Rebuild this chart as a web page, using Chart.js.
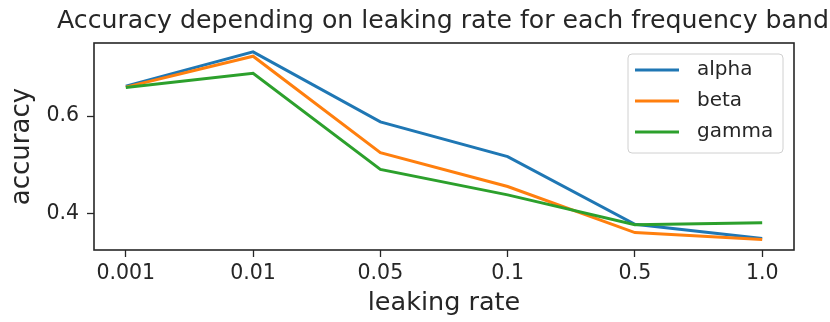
<!DOCTYPE html>
<html lang="en">
<head>
  <meta charset="UTF-8">
  <title>Accuracy depending on leaking rate</title>
  <style>
    body { margin:0; background:#fff; }
    .wrap { width:830px; height:322px; }
  </style>
</head>
<body>
<div class="wrap"><canvas id="accChart" width="830" height="322"></canvas></div>
<script src="https://cdn.jsdelivr.net/npm/chart.js"></script>
<script>
// leaking rate categories (x axis tick labels)
const leakingRates = ['0.001', '0.01', '0.05', '0.1', '0.5', '1.0'];
// accuracy per frequency band
const alphaAcc = [0.661, 0.731, 0.588, 0.517, 0.379, 0.350];
const betaAcc  = [0.659, 0.722, 0.525, 0.456, 0.362, 0.348];
const gammaAcc = [0.658, 0.687, 0.491, 0.439, 0.378, 0.382];
const yTickValues = [0.4, 0.6];

const FONT = "'DejaVu Sans', sans-serif";

function toPoints(arr) {
  return arr.map((v, i) => ({ x: i, y: v }));
}

// frame round the plot + title + legend, matplotlib style
const mplExtras = {
  id: 'mplExtras',
  afterDraw(chart) {
    const { ctx, chartArea: a } = chart;
    ctx.save();
    // box
    ctx.strokeStyle = '#262626';
    ctx.lineWidth = 1.6;
    ctx.strokeRect(a.left, a.top, a.right - a.left, a.bottom - a.top);
    // title
    ctx.fillStyle = '#262626';
    ctx.font = '25.2px ' + FONT;
    ctx.textAlign = 'center';
    ctx.textBaseline = 'alphabetic';
    ctx.fillText('Accuracy depending on leaking rate for each frequency band', (a.left + a.right) / 2 - 1, 28);
    // legend
    const lx = 628, ly = 54, lw = 155, lh = 99;
    ctx.fillStyle = 'rgba(255,255,255,0.8)';
    ctx.strokeStyle = '#d0d0d0';
    ctx.lineWidth = 1;
    ctx.beginPath();
    ctx.roundRect(lx, ly, lw, lh, 4);
    ctx.fill();
    ctx.stroke();
    ctx.font = '20px ' + FONT;
    ctx.textAlign = 'left';
    ctx.textBaseline = 'middle';
    chart.data.datasets.forEach((ds, i) => {
      const y = 70 + i * 31;
      ctx.strokeStyle = ds.borderColor;
      ctx.lineWidth = 3;
      ctx.beginPath();
      ctx.moveTo(635, y);
      ctx.lineTo(679, y);
      ctx.stroke();
      ctx.fillStyle = '#262626';
      ctx.fillText(ds.label, 697, y);
    });
    ctx.restore();
  }
};

new Chart(document.getElementById('accChart'), {
  type: 'line',
  data: {
    datasets: [
      { label: 'alpha', data: toPoints(alphaAcc), borderColor: '#1f77b4', order: 3 },
      { label: 'beta',  data: toPoints(betaAcc),  borderColor: '#ff7f0e', order: 2 },
      { label: 'gamma', data: toPoints(gammaAcc), borderColor: '#2ca02c', order: 1 }
    ]
  },
  options: {
    responsive: false,
    animation: false,
    devicePixelRatio: 1,
    layout: { padding: { top: 43, right: 36, left: 0, bottom: 0 } },
    elements: {
      line: { borderWidth: 3, tension: 0, fill: false },
      point: { radius: 0 }
    },
    plugins: { legend: { display: false }, tooltip: { enabled: false }, title: { display: false } },
    scales: {
      x: {
        type: 'linear',
        min: -0.25, max: 5.25,
        afterBuildTicks: s => { s.ticks = leakingRates.map((_, i) => ({ value: i })); },
        afterFit: s => { s.height = 72; },
        grid: { drawOnChartArea: false, drawTicks: true, tickLength: 7, tickColor: '#262626', tickWidth: 1.3 },
        border: { display: false },
        ticks: { callback: v => leakingRates[v], color: '#262626', font: { family: FONT, size: 20.5 }, padding: 4, maxRotation: 0 },
        title: { display: true, text: 'leaking rate', color: '#262626', font: { family: FONT, size: 25.5 }, padding: { top: 0, bottom: 3 } }
      },
      y: {
        min: 0.3265, max: 0.749,
        afterBuildTicks: s => { s.ticks = yTickValues.map(v => ({ value: v })); },
        afterFit: s => { s.width = 94; },
        grid: { drawOnChartArea: false, drawTicks: true, tickLength: 7, tickColor: '#262626', tickWidth: 1.3 },
        border: { display: false },
        ticks: { callback: v => v.toFixed(1), color: '#262626', font: { family: FONT, size: 20.5 }, padding: 8 },
        title: { display: true, text: 'accuracy', color: '#262626', font: { family: FONT, size: 26 }, padding: { top: 7, bottom: 0 } }
      }
    }
  },
  plugins: [mplExtras]
});
</script>
</body>
</html>
